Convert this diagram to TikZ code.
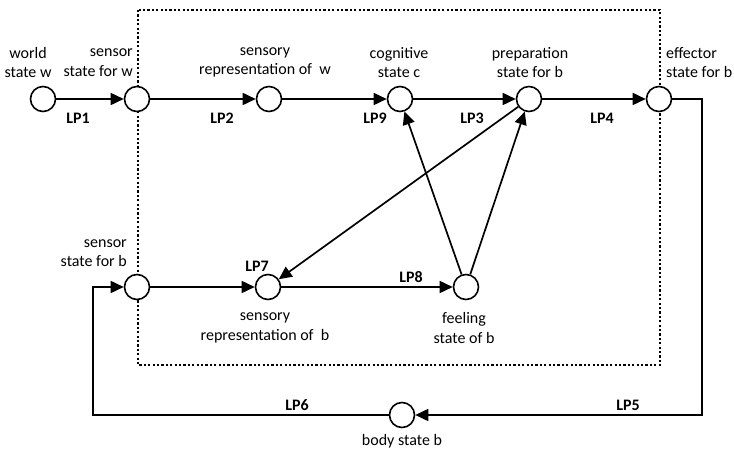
\documentclass[tikz,border=0pt]{standalone}
\usepackage{fontspec}
\setmainfont{Carlito}
\usetikzlibrary{arrows.meta}
\begin{document}
\begin{tikzpicture}[x=1pt,y=-1pt,
  st/.style={circle,draw,line width=1.6pt,fill=white,minimum size=25pt,inner sep=0pt},
  lab/.style={font=\fontsize{16}{19.5}\selectfont,align=center,inner sep=0pt},
  lp/.style={font=\fontsize{16}{19.5}\selectfont\bfseries,inner sep=0pt},
  conn/.style={line width=1.7pt,-{Triangle[length=13pt,width=12pt]}},
  box/.style={line width=2.6pt,dash pattern=on 2.2pt off 2.2pt}]
\useasboundingbox (0,0) rectangle (734,454);
% dotted box
\draw[box] (138,10) rectangle (660,365);
% states
\node[st] (w) at (43,99) {};
\node[st] (sw) at (137,99) {};
\node[st] (rw) at (269,99) {};
\node[st] (c) at (400,99) {};
\node[st] (p) at (529,99) {};
\node[st] (e) at (659,99) {};
\node[st] (sb) at (137,287) {};
\node[st] (rb) at (268,287) {};
\node[st] (f) at (466,287) {};
\node[st] (bb) at (402,415) {};
\coordinate (tr) at (702,99);
\coordinate (br) at (702,415);
\coordinate (bl) at (93,415);
\coordinate (tl) at (93,287);
% connectors
\draw[conn] (w) -- (sw);
\draw[conn] (sw) -- (rw);
\draw[conn] (rw) -- (c);
\draw[conn] (c) -- (p);
\draw[conn] (p) -- (e);
\draw[conn] (e) -- (tr) -- (br) -- (bb);
\draw[conn] (bb) -- (bl) -- (tl) -- (sb);
\draw[conn] (sb) -- (rb);
\draw[conn] (rb) -- (f);
\draw[conn] (f) -- (c);
\draw[conn] (f) -- (p);
\draw[conn] (p) -- (rb);
% labels
\node[lab] (tw) at (28,62.5) {world\\state w};
\node[lab,align=right,anchor=east] (tsw) at (133,62.5) {sensor\\state for w};
\node[lab] (trw) at (265,62.5) {sensory\\representation of \ w};
\node[lab] (tc) at (399,62.5) {cognitive\\state c};
\node[lab] (tp) at (530,62.5) {preparation\\state for b};
\node[lab,align=left,anchor=west] (te) at (666,62.5) {effector\\state for b};
\node[lab,align=right,anchor=east] (tsb) at (127,253) {sensor\\state for b};
\node[lab] (trb) at (265,328) {sensory\\representation of \ b};
\node[lab] (tf) at (464,328) {feeling\\state of b};
\node[lab] (tbb) at (402,441) {body state b};
\node[lp] (l1) at (78,118) {LP1};
\node[lp] (l2) at (222,118) {LP2};
\node[lp] (l9) at (375,118) {LP9};
\node[lp] (l3) at (472,118) {LP3};
\node[lp] (l4) at (602,118) {LP4};
\node[lp] (l7) at (257,266) {LP7};
\node[lp] (l8) at (411,277) {LP8};
\node[lp] (l6) at (297,405) {LP6};
\node[lp] (l5) at (628,405) {LP5};
\end{tikzpicture}
\end{document}
